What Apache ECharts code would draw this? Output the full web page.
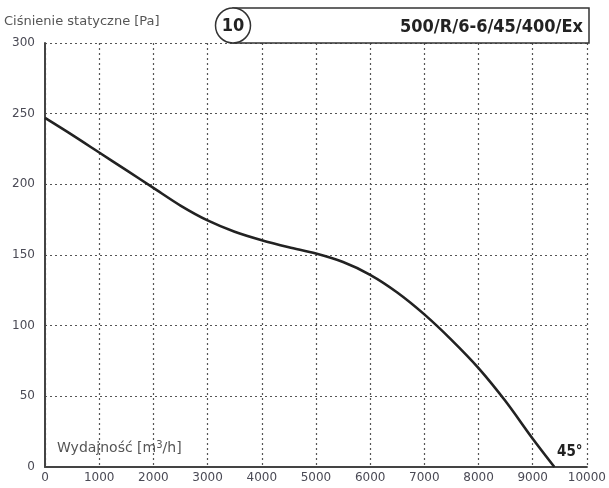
<!DOCTYPE html>
<html>
<head>
<meta charset="utf-8">
<script src="https://cdn.jsdelivr.net/npm/echarts@6/dist/echarts.min.js"></script>
<style>html,body{margin:0;padding:0;background:#fff}#c{width:609px;height:488px}</style>
</head>
<body>
<div id="c"></div>
<script>
// Data
var flow = [0, 500, 1000, 1500, 2000, 2500, 3000, 3500, 4000, 4500, 5000, 5500, 6000, 6500, 7000, 7500, 8000, 8500, 9000, 9400];
var pressure = [247, 235, 222.5, 210, 197.5, 185, 174.5, 166.5, 160.5, 155.5, 151, 145, 136, 123.5, 108, 90, 70, 46.5, 20, 0];
var xTicks = [0, 1000, 2000, 3000, 4000, 5000, 6000, 7000, 8000, 9000, 10000];
var yTicks = [0, 50, 100, 150, 200, 250, 300];
var yTitle = 'Ciśnienie statyczne [Pa]';
var xTitle = 'Wydajność [m{s|3}/h]';
var curveNo = '10';
var modelName = '500/R/6-6/45/400/Ex';
var angleLabel = '45°';

var font = "'DejaVu Sans', 'Liberation Sans', sans-serif";
var boldFont = "'DejaVu Sans Condensed', 'Liberation Sans Narrow', sans-serif";
var labelColor = '#4a4a55';
var gridColor = '#555';

var chart = echarts.init(document.getElementById('c'));
chart.setOption({
  animation: false,
  backgroundColor: '#fff',
  grid: {left: 45, right: 20, top: 43, bottom: 21},
  xAxis: {
    type: 'value', min: xTicks[0], max: xTicks[xTicks.length - 1], interval: 1000,
    axisLine: {show: true, lineStyle: {color: '#444', width: 2}},
    axisTick: {show: false},
    axisLabel: {color: labelColor, fontFamily: font, fontSize: 12, margin: 5,
      formatter: function (v) { return String(v); }},
    splitLine: {show: true, lineStyle: {color: gridColor, type: [2, 3], width: 1.2}}
  },
  yAxis: {
    type: 'value', min: yTicks[0], max: yTicks[yTicks.length - 1], interval: 50,
    axisLine: {show: true, lineStyle: {color: '#444', width: 2}},
    axisTick: {show: false},
    axisLabel: {color: labelColor, fontFamily: font, fontSize: 12, margin: 10,
      formatter: function (v) { return String(v); }},
    splitLine: {show: true, lineStyle: {color: gridColor, type: [2, 3], width: 1.2}}
  },
  series: [{
    type: 'line',
    data: flow.map(function (f, i) { return [f, pressure[i]]; }),
    smooth: 0.3,
    showSymbol: false,
    lineStyle: {color: '#222', width: 2.6},
    z: 5
  }],
  graphic: [
    {type: 'text', x: 4, y: 22, style: {text: yTitle, fill: '#555', font: '13px ' + font, verticalAlign: 'middle'}},
    {type: 'rect', shape: {x: 233, y: 8, width: 356, height: 35}, style: {fill: '#fff', stroke: '#333', lineWidth: 1.5}, z: 10},
    {type: 'circle', shape: {cx: 233, cy: 25.5, r: 17.5}, style: {fill: '#fff', stroke: '#333', lineWidth: 1.5}, z: 11},
    {type: 'text', x: 233, y: 26, style: {text: curveNo, fill: '#222', font: 'bold 18px ' + boldFont, align: 'center', verticalAlign: 'middle'}, z: 12},
    {type: 'text', x: 583, y: 27, style: {text: modelName, fill: '#222', font: 'bold 18px ' + boldFont, align: 'right', verticalAlign: 'middle'}, z: 12},
    {type: 'text', x: 57, y: 448, style: {text: xTitle, fill: '#555', font: '14px ' + font, verticalAlign: 'middle', rich: {s: {fontSize: 10, fontFamily: "'DejaVu Sans'", verticalAlign: 'top', padding: [0, 0, 6, 0], fill: '#555'}}}, z: 12},
    {type: 'text', x: 557, y: 452, style: {text: angleLabel, fill: '#222', font: 'bold 15px ' + boldFont, verticalAlign: 'middle'}, z: 12}
  ]
});
</script>
</body>
</html>
